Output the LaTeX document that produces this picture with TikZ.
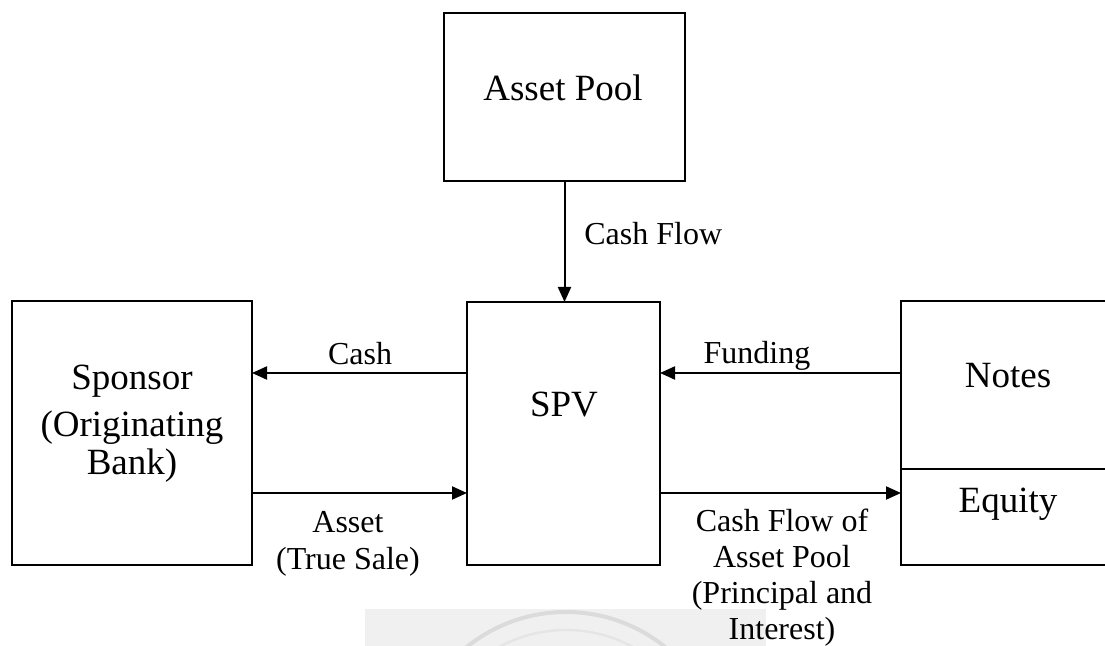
\documentclass[tikz,border=0pt]{standalone}
\usepackage{fontspec}
\setmainfont{Liberation Serif}
\usetikzlibrary{arrows.meta,calc}

\tikzset{
  box/.style={draw, line width=1pt, inner sep=0pt, outer sep=0pt},
  bigtxt/.style={font=\fontsize{18.5pt}{21pt}\selectfont, inner sep=0pt, anchor=base},
  lbl/.style={font=\fontsize{16pt}{18pt}\selectfont, inner sep=0pt, anchor=base},
  arr/.style={line width=1pt, -{Triangle[length=7.5pt,width=6.5pt]}},
}

\begin{document}
\begin{tikzpicture}[x=0.5pt, y=-0.5pt]
  \clip (0,0) rectangle (1105,646);
  \fill[white] (0,0) rectangle (1105,646);

  % faint seal strip at the foot of the page
  \begin{scope}
    \clip (365,609) rectangle (766,646);
    \fill[black!6] (365,609) rectangle (766,646);
    \draw[black!14, line width=2pt] (566,770) circle[radius=158];
    \draw[black!10, line width=1.2pt] (566,770) circle[radius=140];
  \end{scope}

  % boxes
  \node[box, minimum width=120.5pt, minimum height=84pt] (pool) at (564.5,97) {};
  \node[box, minimum width=96.5pt, minimum height=131.5pt] (spv) at (563.5,433.5) {};
  \node[box, minimum width=120pt, minimum height=132pt] (sponsor) at (132,433) {};
  \node[box, minimum width=107.5pt, minimum height=84pt] (notes) at (1008.5,385) {};
  \node[box, minimum width=107.5pt, minimum height=48pt] (equity) at (1008.5,517) {};

  % box texts
  \node[bigtxt] (tpool) at (563,101) {Asset Pool};
  \node[bigtxt] (tspv) at (564,417) {SPV};
  \node[bigtxt] (tsp1) at (132,390) {Sponsor};
  \node[bigtxt] (tsp2) at (132,437) {(Originating};
  \node[bigtxt] (tsp3) at (132,475) {Bank)};
  \node[bigtxt] (tnotes) at (1008,388) {Notes};
  \node[bigtxt] (tequity) at (1008,513) {Equity};

  % rows of the horizontal flows
  \coordinate (cashrow) at (0,373);
  \coordinate (assetrow) at (0,493);

  % connectors
  \draw[arr] (pool.south) -- (pool.south |- spv.north);
  \draw[arr] (spv.west |- cashrow) -- (sponsor.east |- cashrow);
  \draw[arr] (sponsor.east |- assetrow) -- (spv.west |- assetrow);
  \draw[arr] (notes.west |- cashrow) -- (spv.east |- cashrow);
  \draw[arr] (spv.east |- assetrow) -- (equity.west |- assetrow);

  % connector labels
  \node[lbl, anchor=base west] (lcf) at (584,245) {Cash Flow};
  \node[lbl] (lcash) at (360,365) {Cash};
  \node[lbl] (lfund) at (757,364) {Funding};
  \node[lbl] (las1) at (348,533) {Asset};
  \node[lbl] (las2) at (348,570) {(True Sale)};
  \node[lbl] (lcp1) at (782,532) {Cash Flow of};
  \node[lbl] (lcp2) at (782,568) {Asset Pool};
  \node[lbl] (lcp3) at (782,604) {(Principal and};
  \node[lbl] (lcp4) at (782,640) {Interest)};
\end{tikzpicture}
\end{document}
